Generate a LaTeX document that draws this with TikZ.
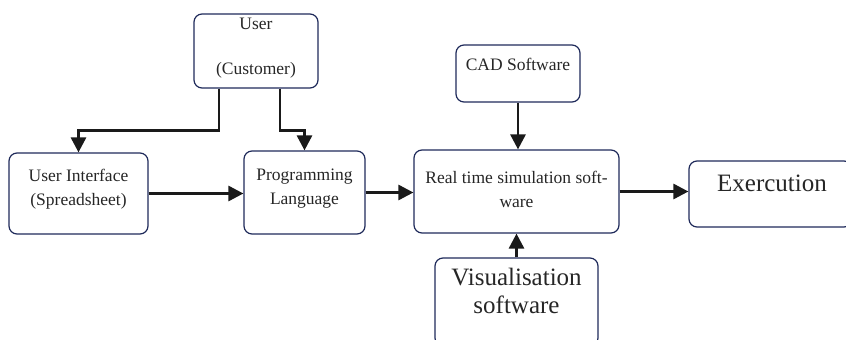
\documentclass[tikz,border=0pt]{standalone}
\usepackage{fontspec}
\setmainfont{Liberation Serif}
\usetikzlibrary{arrows.meta,calc}
\definecolor{boxcol}{HTML}{1F2A5A}
\definecolor{arrcol}{HTML}{1A1A1A}
\tikzset{
  box/.style={draw=boxcol, line width=1.2pt, rounded corners=8pt, inner sep=0pt},
  txt/.style={inner sep=0pt, align=center, text=black!85, font=\fontsize{17.5}{24}\selectfont},
  bigtxt/.style={inner sep=0pt, align=center, text=black!85, font=\fontsize{25}{28}\selectfont},
  arr/.style={draw=arrcol, line width=2.8pt, -{Triangle[length=15pt,width=15pt]}}
}
\begin{document}
\begin{tikzpicture}[x=1pt,y=-1pt]
\useasboundingbox (0,0) rectangle (846,340);
% boxes
\node[box, minimum width=124pt, minimum height=74pt] (user) at (256,51) {};
\node[box, minimum width=139pt, minimum height=81pt] (ui) at (78.5,193.5) {};
\node[box, minimum width=121pt, minimum height=83pt] (pl) at (304.5,192.5) {};
\node[box, minimum width=205pt, minimum height=83pt] (rt) at (516.5,191.5) {};
\node[box, minimum width=124pt, minimum height=57pt] (cad) at (518,73.5) {};
\node[box, minimum width=163pt, minimum height=66pt] (exec) at (770.5,194) {};
\node[box, minimum width=163pt, minimum height=88pt] (vis) at (516.5,302) {};
% texts
\node[txt] (usert) at (256,24) {User};
\node[txt] (custt) at (256,70) {(Customer)};
\node[txt] (uit) at (78.5,189) {User Interface\\(Spreadsheet)};
\node[txt] (plt) at (304.5,189) {Programming\\Language};
\node[txt] (rtt) at (516.5,189) {Real time simulation soft-\\ware};
\node[txt] (cadt) at (518,64) {CAD Software};
\node[bigtxt] (exect) at (772,183) {Exercution};
\node[bigtxt] (vist) at (516.5,291) {Visualisation\\software};
% connectors
\draw[arr] ([xshift=-37pt]user.south) -- ++(0,42) -| (ui.north);
\draw[arr] ([xshift=24pt]user.south) -- ++(0,42) -| (pl.north);
\draw[arr] (ui.east) -- (ui.east -| pl.west);
\draw[arr] (pl.east) -- (pl.east -| rt.west);
\draw[arr] (cad.south) -- (cad.south |- rt.north);
\draw[arr] (vis.north) -- (vis.north |- rt.south);
\draw[arr] (rt.east) -- (rt.east -| exec.west);
\end{tikzpicture}
\end{document}
